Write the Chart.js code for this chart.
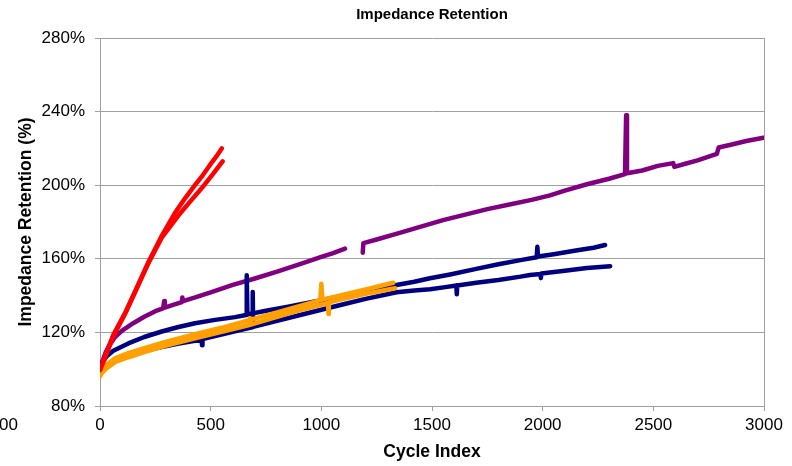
<!DOCTYPE html>
<html>
<head>
<meta charset="utf-8">
<title>Impedance Retention</title>
<script src="https://cdn.jsdelivr.net/npm/chart.js@4.4.1/dist/chart.umd.min.js"></script>
<style>
  html, body { margin: 0; padding: 0; background: #ffffff; overflow: hidden; }
  #stage { position: relative; width: 792px; height: 466px; overflow: hidden; background: #ffffff; }
  #main { position: absolute; left: 0; top: 0; }
  #prev { position: absolute; left: -278px; top: 0; }
</style>
</head>
<body>
<div id="stage">
  <canvas id="prev" width="300" height="466"></canvas>
  <canvas id="main" width="792" height="466"></canvas>
</div>
<script>
// Axis ticks
const xTicks = [0, 500, 1000, 1500, 2000, 2500, 3000];
const yTicks = [80, 120, 160, 200, 240, 280];

// Cell group 1 (red) — two cells
const redACycles = [0, 20, 60, 113, 165, 218, 279, 339, 385, 429, 465, 497, 525, 550];
const redAValues = [100, 106, 118.5, 130.5, 144, 158, 172.5, 185, 193, 200, 205.5, 211, 215.5, 220];
const redBCycles = [0, 20, 60, 113, 165, 218, 279, 354, 410, 459, 510, 554];
const redBValues = [99.5, 105.5, 118, 130, 143.5, 157.5, 171.5, 183.5, 191.5, 198.3, 206, 213];

// Cell group 2 (purple) — one cell, logging gap around 1100-1190
const purpleCycles = [0, 10, 25, 45, 68, 100, 150, 200, 250, 285, 290, 293, 330, 370, 372, 375, 430, 500, 600, 700, 800, 900, 1000, 1050, 1107, 1150,
  1187, 1190, 1250, 1350, 1450, 1550, 1650, 1750, 1850, 1950, 2033, 2100, 2200, 2300, 2372, 2377, 2381, 2450, 2520, 2590, 2595, 2640, 2700, 2787, 2795, 2850, 2920, 2997];
const purpleValues = [100, 104, 109, 113.5, 117.5, 121, 125, 128.5, 131.5, 133, 137, 133.5, 135, 136.5, 139, 137, 139, 141.8, 145.8, 149.3, 153, 157, 161, 163, 165.5, null,
  163.3, 168.5, 170.5, 174, 177.5, 181, 184, 187, 189.5, 192, 194.5, 197, 200.5, 203.5, 206, 238, 206.5, 208, 210.5, 212, 210, 211.5, 213.5, 217, 220.5, 222, 224, 225.8];

// Cell group 3 (navy) — two cells
const navyACycles = [0, 7, 30, 60, 128, 200, 279, 350, 429, 520, 610, 660, 663, 666, 750, 850, 1000, 1100, 1200, 1340, 1420, 1491, 1582, 1700, 1800, 1900, 1973, 1976, 1979, 2050, 2150, 2230, 2282];
const navyAValues = [100.5, 103, 107, 110, 114, 117.5, 120.5, 122.8, 125, 126.8, 128.3, 129.5, 151, 129.8, 131.8, 134, 137.5, 140, 142.5, 145.8, 147.5, 149.4, 151.5, 154.5, 157, 159.3, 160.8, 166.5, 161.2, 162.5, 164.5, 166, 167.5];
const navyBCycles = [0, 30, 70, 128, 200, 279, 350, 429, 459, 461, 463, 520, 610, 688, 690, 692, 800, 900, 1000, 1100, 1200, 1340, 1420, 1491, 1560, 1610, 1612, 1614, 1700, 1800, 1900, 1943, 1990, 1992, 1994, 2100, 2200, 2305];
const navyBValues = [99, 102, 105, 107.7, 110, 112, 113.8, 115.5, 116.2, 113, 116.4, 118, 120.6, 122.8, 142, 123, 126.3, 129.3, 132.3, 135.3, 138.2, 141.8, 142.8, 143.4, 144.6, 145.5, 140.7, 145.5, 147, 148.5, 150.3, 151.2, 151.8, 149.5, 152, 153.5, 155, 156];

// Cell group 4 (orange) — two cells
const orangeACycles = [0, 5, 30, 70, 128, 200, 300, 429, 550, 678, 800, 900, 995, 1000, 1005, 1100, 1200, 1325];
const orangeAValues = [98, 99.5, 102.5, 106, 108.7, 111.5, 115, 119, 122.5, 126.8, 130.8, 134.2, 137.5, 146.5, 137.8, 140.5, 143.3, 147];
const orangeBCycles = [0, 5, 30, 70, 128, 200, 300, 429, 550, 675, 678, 681, 800, 900, 1030, 1032, 1034, 1100, 1200, 1333];
const orangeBValues = [96, 97.5, 100.5, 104, 106.5, 109.3, 112.8, 116.8, 120.3, 124, 127.5, 124.2, 128.5, 132, 136, 130, 136.3, 138.3, 141, 144];

// Neighbouring panel: tail of its purple trace
const prevCycles = [2900, 3000];
const prevValues = [114.5, 115];

const GRID = '#A0A0A0';
const FONT = "'Liberation Sans', Arial, sans-serif";

function pts(xs, ys) {
  return xs.map((x, i) => ({ x: x, y: ys[i] }));
}
function series(label, xs, ys, color) {
  return {
    label: label,
    data: pts(xs, ys),
    borderColor: color,
    backgroundColor: color,
    borderWidth: 4.5,
    pointRadius: 0,
    tension: 0,
    spanGaps: false,
    borderJoinStyle: 'round',
    borderCapStyle: 'round'
  };
}

// Title centred over the plot area
const plotTitle = {
  id: 'plotTitle',
  afterDraw(chart, args, opts) {
    if (!opts.text) return;
    const ctx = chart.ctx;
    const a = chart.chartArea;
    ctx.save();
    ctx.font = 'bold 15px ' + FONT;
    ctx.fillStyle = '#000';
    ctx.textAlign = 'center';
    ctx.textBaseline = 'middle';
    ctx.fillText(opts.text, (a.left + a.right) / 2, 15);
    ctx.restore();
  }
};

function baseScales(showYTitle) {
  return {
    x: {
      type: 'linear',
      min: 0, max: 3000,
      afterBuildTicks(s) { s.ticks = xTicks.map(v => ({ value: v })); },
      afterFit(s) { s.height = 60; },
      grid: { drawOnChartArea: false, color: GRID, tickLength: 5 },
      border: { color: GRID, width: 1 },
      ticks: { color: '#000', font: { family: FONT, size: 17 }, padding: 4, maxRotation: 0, callback: v => String(v) },
      title: {
        display: true, text: 'Cycle Index', color: '#000',
        font: { family: FONT, size: 17.5, weight: 'bold' },
        padding: { top: 0, bottom: 3 }
      }
    },
    y: {
      type: 'linear',
      min: 80, max: 280,
      afterBuildTicks(s) { s.ticks = yTicks.map(v => ({ value: v })); },
      afterFit(s) { s.width = 100; },
      grid: { color: GRID, tickLength: 5 },
      border: { color: GRID, width: 1 },
      ticks: { color: '#000', font: { family: FONT, size: 17 }, padding: 10, callback: v => v + '%' },
      title: {
        display: showYTitle, text: 'Impedance Retention (%)', color: '#000',
        font: { family: FONT, size: 17.5, weight: 'bold' },
        padding: { top: 16, bottom: 0 }
      }
    },
    yRight: {
      type: 'linear', position: 'right',
      min: 80, max: 280,
      afterFit(s) { s.width = 0; },
      grid: { drawOnChartArea: false, drawTicks: false },
      border: { color: GRID, width: 1 },
      ticks: { display: false }
    }
  };
}

// Main chart
new Chart(document.getElementById('main'), {
  type: 'line',
  data: {
    datasets: [
      series('Red A', redACycles, redAValues, '#FF0000'),
      series('Red B', redBCycles, redBValues, '#FF0000'),
      series('Orange A', orangeACycles, orangeAValues, '#FFA000'),
      series('Orange B', orangeBCycles, orangeBValues, '#FFA000'),
      series('Navy A', navyACycles, navyAValues, '#000080'),
      series('Navy B', navyBCycles, navyBValues, '#000080'),
      series('Purple', purpleCycles, purpleValues, '#800080')
    ]
  },
  options: {
    responsive: false,
    animation: false,
    devicePixelRatio: 1,
    layout: { padding: { top: 38, right: 28, bottom: 0, left: 0 } },
    scales: baseScales(true),
    plugins: {
      legend: { display: false },
      tooltip: { enabled: false },
      title: { display: false },
      plotTitle: { text: 'Impedance Retention' }
    }
  },
  plugins: [plotTitle]
});

// Neighbouring panel, mostly outside the view
new Chart(document.getElementById('prev'), {
  type: 'line',
  data: {
    datasets: [series('Purple', prevCycles, prevValues, '#800080')]
  },
  options: {
    responsive: false,
    animation: false,
    devicePixelRatio: 1,
    layout: { padding: { top: 38, right: 20, bottom: 0, left: 0 } },
    scales: baseScales(false),
    plugins: {
      legend: { display: false },
      tooltip: { enabled: false },
      title: { display: false }
    }
  }
});
</script>
</body>
</html>
